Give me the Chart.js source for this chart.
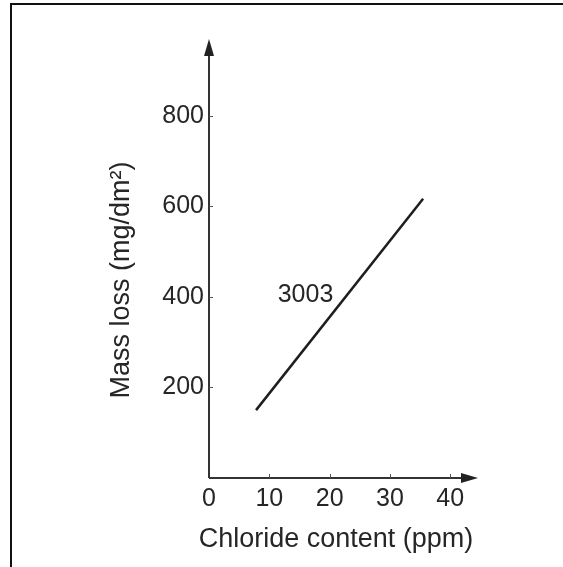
<!DOCTYPE html>
<html>
<head>
<meta charset="utf-8">
<script src="https://cdn.jsdelivr.net/npm/chart.js@4/dist/chart.umd.min.js"></script>
<style>
  html, body { margin: 0; padding: 0; background: #fff; overflow: hidden; }
  #wrap { width: 563px; height: 567px; position: relative; overflow: hidden; }
  canvas { display: block; }
</style>
</head>
<body>
<div id="wrap"><canvas id="c" width="563" height="567"></canvas></div>
<script>
// ---- data ----
const chlorideContent = [7.8, 35.5];      // ppm
const massLoss3003 = [150, 617];          // mg/dm²
const seriesName = '3003';
const seriesLabelAt = { x: 16, y: 405 };  // where the series name sits (data units)
const xTicks = [0, 10, 20, 30, 40];
const yTicks = [200, 400, 600, 800];
const xTitle = 'Chloride content (ppm)';
const yTitle = 'Mass loss (mg/dm²)';

const FAMILY = '"Liberation Sans", Arial, Helvetica, sans-serif';
const FONT = { family: FAMILY, size: 25 };
const TITLE_SIZE = 27;
const INK = '#262626';

const points = chlorideContent.map((x, i) => ({ x, y: massLoss3003[i] }));

const decor = {
  id: 'decor',
  afterDraw(chart) {
    const { ctx, chartArea: a, scales: { x, y } } = chart;
    ctx.save();
    // outer frame (only top and left edges are inside the picture)
    ctx.strokeStyle = '#111';
    ctx.lineWidth = 2;
    ctx.beginPath();
    ctx.moveTo(11, 600);
    ctx.lineTo(11, 4);
    ctx.lineTo(600, 4);
    ctx.stroke();
    // axes
    ctx.strokeStyle = '#333';
    ctx.lineWidth = 2;
    ctx.beginPath();
    ctx.moveTo(a.left, a.bottom);
    ctx.lineTo(a.left, a.top + 10);
    ctx.moveTo(a.left, a.bottom);
    ctx.lineTo(a.right - 10, a.bottom);
    ctx.stroke();
    // arrow heads
    ctx.fillStyle = '#222';
    ctx.beginPath();
    ctx.moveTo(a.left, a.top);
    ctx.lineTo(a.left - 5, a.top + 17);
    ctx.lineTo(a.left + 5, a.top + 17);
    ctx.closePath();
    ctx.fill();
    ctx.beginPath();
    ctx.moveTo(a.right, a.bottom);
    ctx.lineTo(a.right - 17, a.bottom - 5);
    ctx.lineTo(a.right - 17, a.bottom + 5);
    ctx.closePath();
    ctx.fill();
    // small inward tick marks
    ctx.strokeStyle = '#555';
    ctx.lineWidth = 1;
    ctx.beginPath();
    xTicks.slice(1).forEach(v => {
      const px = Math.round(x.getPixelForValue(v)) + 0.5;
      ctx.moveTo(px, a.bottom);
      ctx.lineTo(px, a.bottom - 4);
    });
    yTicks.forEach(v => {
      const py = Math.round(y.getPixelForValue(v)) + 0.5;
      ctx.moveTo(a.left, py);
      ctx.lineTo(a.left + 4, py);
    });
    ctx.stroke();
    // series label
    ctx.fillStyle = INK;
    ctx.font = FONT.size + 'px ' + FAMILY;
    ctx.textAlign = 'center';
    ctx.textBaseline = 'middle';
    ctx.fillText(seriesName, x.getPixelForValue(seriesLabelAt.x), y.getPixelForValue(seriesLabelAt.y));
    // axis titles
    ctx.font = TITLE_SIZE + 'px ' + FAMILY;
    ctx.fillText(xTitle, a.left + 127, a.bottom + 62);
    ctx.translate(a.left - 87, a.top + 241);
    ctx.rotate(-Math.PI / 2);
    ctx.fillText(yTitle, 0, 0);
    ctx.restore();
  }
};

new Chart(document.getElementById('c'), {
  type: 'scatter',
  data: {
    datasets: [{
      label: seriesName,
      data: points,
      showLine: true,
      borderColor: '#1e1e1e',
      borderWidth: 2.5,
      pointRadius: 0,
      fill: false
    }]
  },
  options: {
    responsive: false,
    animation: false,
    devicePixelRatio: 1,
    layout: { padding: { top: 39, right: 85, left: 0, bottom: 0 } },
    plugins: { legend: { display: false }, tooltip: { enabled: false } },
    scales: {
      x: {
        type: 'linear',
        min: 0, max: 44.6,
        afterFit(s) { s.height = 89; },
        afterBuildTicks(s) { s.ticks = xTicks.map(v => ({ value: v })); },
        grid: { display: false, drawTicks: false },
        border: { display: false },
        ticks: { color: INK, font: FONT, padding: 6, maxRotation: 0, autoSkip: false },
        title: { display: false, text: xTitle }
      },
      y: {
        type: 'linear',
        min: 0, max: 970,
        afterFit(s) { s.width = 209; },
        afterBuildTicks(s) { s.ticks = yTicks.map(v => ({ value: v })); },
        grid: { display: false, drawTicks: false },
        border: { display: false },
        ticks: { color: INK, font: FONT, padding: 5, autoSkip: false },
        title: { display: false, text: yTitle }
      }
    }
  },
  plugins: [decor]
});
</script>
</body>
</html>
